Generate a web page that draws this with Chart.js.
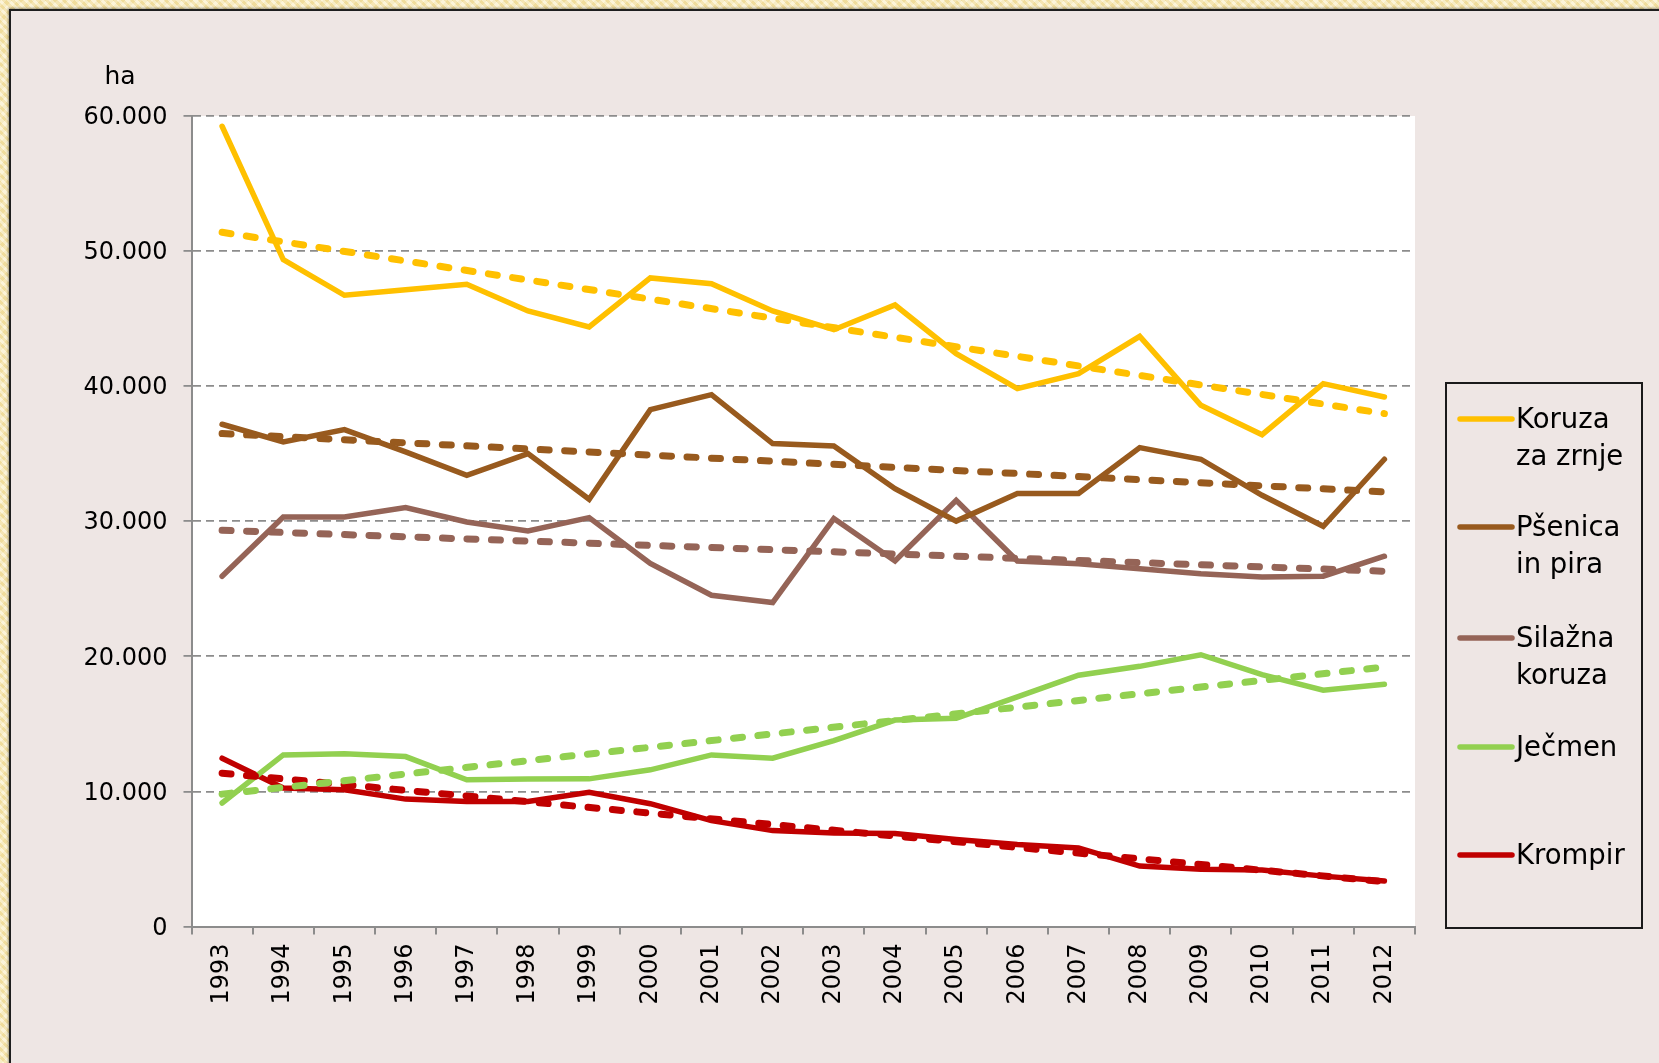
<!DOCTYPE html>
<html>
<head>
<meta charset="utf-8">
<script src="https://cdn.jsdelivr.net/npm/chart.js@4.4.0/dist/chart.umd.min.js"></script>
<style>
  html, body { margin: 0; padding: 0; width: 1659px; height: 1063px; overflow: hidden; }
  body {
    background-color: #F8E8B2;
    background-image:
      repeating-linear-gradient(45deg, rgba(255,255,255,0.35) 0 3px, rgba(230,205,130,0.25) 3px 6px),
      repeating-linear-gradient(-45deg, rgba(255,255,255,0.25) 0 4px, rgba(225,200,120,0.2) 4px 8px);
  }
  #panel {
    position: absolute; left: 9px; top: 9px; width: 1720px; height: 1120px;
    background: #EEE6E4; border: 2px solid #1e1e1e;
    box-shadow: -1px -1px 2px rgba(0,0,0,0.35);
  }
  #c { position: absolute; left: 0; top: 0; }
</style>
</head>
<body>
<div id="panel"></div>
<canvas id="c" width="1659" height="1063"></canvas>
<script>
const years = ['1993','1994','1995','1996','1997','1998','1999','2000','2001','2002',
               '2003','2004','2005','2006','2007','2008','2009','2010','2011','2012'];

const koruza  = [59240, 49370, 46730, 47140, 47540, 45570, 44380, 48010, 47590, 45570,
                 44180, 46010, 42410, 39820, 40930, 43690, 38580, 36410, 40190, 39200];
const psenica = [37180, 35870, 36780, 35130, 33400, 35010, 31630, 38260, 39370, 35750,
                 35570, 32410, 30010, 32050, 32050, 35450, 34590, 31920, 29630, 34590];
const silazna = [25930, 30320, 30320, 31010, 29950, 29280, 30270, 26870, 24520, 23980,
                 30200, 27060, 31550, 27060, 26860, 26490, 26120, 25880, 25930, 27410];
const jecmen  = [9140, 12700, 12780, 12580, 10860, 10910, 10930, 11600, 12700, 12460,
                 13760, 15280, 15410, 17000, 18600, 19260, 20120, 18650, 17490, 17940];
const krompir = [12460, 10250, 10120, 9430, 9260, 9260, 9930, 9090, 7840, 7100,
                 6930, 6880, 6440, 6070, 5820, 4470, 4230, 4180, 3730, 3370];

// Trend line end points (1993, 2012)
const koruzaTrend  = [51390, 37970];
const psenicaTrend = [36490, 32170];
const silaznaTrend = [29330, 26300];
const jecmenTrend  = [9800, 19210];
const krompirTrend = [11350, 3320];

const seriesNames = ['Koruza za zrnje', 'Pšenica in pira', 'Silažna koruza', 'Ječmen', 'Krompir'];
const legendLines = [['Koruza', 'za zrnje'], ['Pšenica', 'in pira'], ['Silažna', 'koruza'], ['Ječmen'], ['Krompir']];
const yTicks = [0, 10000, 20000, 30000, 40000, 50000, 60000];
const unitLabel = 'ha';

const colors = ['#FFC000', '#985A1E', '#956457', '#92D050', '#C00000'];
const seriesData = [koruza, psenica, silazna, jecmen, krompir];
const trendData = [koruzaTrend, psenicaTrend, silaznaTrend, jecmenTrend, krompirTrend];

function trendArray(ends) {
  return years.map((_, i) => i === 0 ? ends[0] : (i === years.length - 1 ? ends[1] : null));
}

const FONT = "'DejaVu Sans', sans-serif";

const datasets = [];
seriesData.forEach((d, i) => {
  datasets.push({
    label: seriesNames[i], data: d, borderColor: colors[i], backgroundColor: colors[i],
    borderWidth: 5.5, pointRadius: 0, tension: 0, order: 1, fill: false,
    borderCapStyle: 'round', borderJoinStyle: 'miter'
  });
});
trendData.forEach((t, i) => {
  datasets.push({
    label: seriesNames[i] + ' trend', data: trendArray(t), borderColor: colors[i],
    borderWidth: 7, borderDash: [9, 15.5], borderCapStyle: 'round',
    pointRadius: 0, spanGaps: true, order: 0, fill: false
  });
});

const decor = {
  id: 'decor',
  beforeDraw(chart) {
    const { ctx, chartArea: a } = chart;
    ctx.save();
    ctx.fillStyle = '#FFFFFF';
    ctx.fillRect(a.left, a.top, a.right - a.left, a.bottom - a.top);
    ctx.restore();
  },
  afterDraw(chart) {
    const ctx = chart.ctx;
    ctx.save();
    ctx.fillStyle = '#000';
    ctx.font = '25px ' + FONT;
    ctx.textAlign = 'center';
    ctx.textBaseline = 'middle';
    ctx.fillText(unitLabel, 120, 77);
    const bx = 1446, by = 383, bw = 196, bh = 545;
    ctx.strokeStyle = '#1a1a1a';
    ctx.lineWidth = 2;
    ctx.strokeRect(bx, by, bw, bh);
    const itemY = [419, 527, 638, 747, 855];
    ctx.font = '27.5px ' + FONT;
    ctx.textAlign = 'left';
    legendLines.forEach((lines, i) => {
      const y = itemY[i];
      ctx.strokeStyle = colors[i];
      ctx.lineWidth = 5.5;
      ctx.lineCap = 'round';
      ctx.beginPath();
      ctx.moveTo(1460, y);
      ctx.lineTo(1512, y);
      ctx.stroke();
      ctx.fillStyle = '#000';
      lines.forEach((txt, k) => ctx.fillText(txt, 1516, y + 2 + k * 37));
    });
    ctx.restore();
  }
};

new Chart(document.getElementById('c'), {
  type: 'line',
  data: { labels: years, datasets },
  options: {
    responsive: false,
    devicePixelRatio: 1,
    animation: false,
    layout: { padding: { left: 0, top: 116, right: 244, bottom: 0 } },
    plugins: { legend: { display: false }, tooltip: { enabled: false }, title: { display: false } },
    scales: {
      x: {
        offset: true,
        grid: { offset: true, drawOnChartArea: false, drawTicks: true, tickLength: 8, color: '#8C8C8C', lineWidth: 2 },
        border: { display: true, color: '#8C8C8C', width: 2 },
        ticks: { color: '#000', font: { family: FONT, size: 24 }, minRotation: 90, maxRotation: 90, padding: 9, autoSkip: false },
        afterFit(s) { s.height = 1063 - 926.5; }
      },
      y: {
        min: 0, max: 60000,
        afterBuildTicks(s) { s.ticks = yTicks.map(v => ({ value: v })); },
        grid: { color: '#8C8C8C', lineWidth: 1.8, tickBorderDash: [8, 5], drawTicks: true, tickLength: 8 },
        border: { display: true, color: '#8C8C8C', width: 2, dash: [8, 5] },
        ticks: {
          color: '#000', font: { family: FONT, size: 24 }, padding: 16, labelOffset: 2,
          callback: v => v.toString().replace(/\B(?=(\d{3})+(?!\d))/g, '.')
        },
        afterFit(s) { s.width = 191.5; }
      }
    }
  },
  plugins: [decor]
});
</script>
</body>
</html>
